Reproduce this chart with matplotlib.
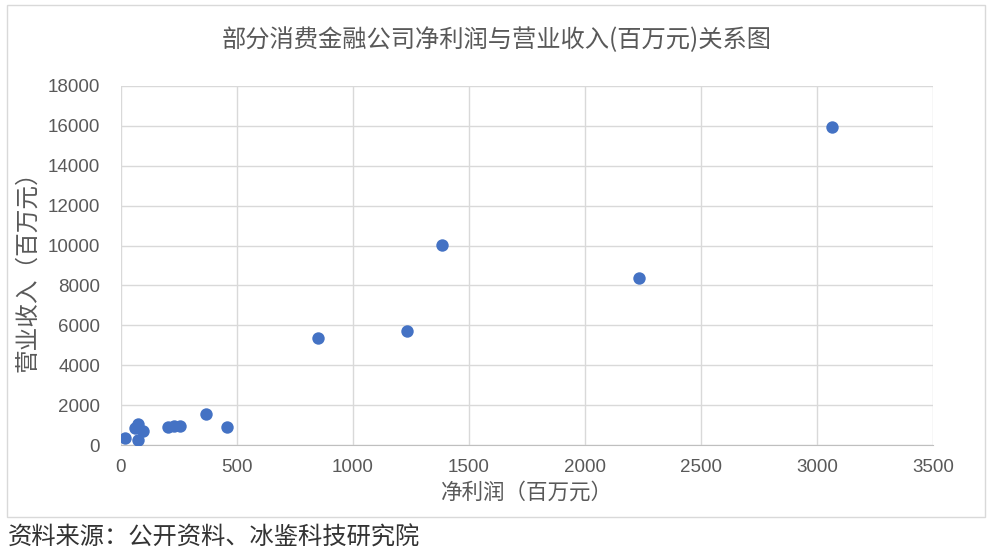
import matplotlib
matplotlib.use('Agg')
import matplotlib.pyplot as plt
from matplotlib.patches import Rectangle

plt.rcParams['font.family'] = ['Noto Sans CJK SC', 'DejaVu Sans']

# net profit vs revenue (million yuan)
net_profit = [3065, 2233, 1384, 1233, 849, 457, 366, 254, 228, 203, 95, 73, 73, 60, 17]
revenue = [15950, 8380, 10030, 5720, 5370, 900, 1560, 950, 950, 920, 700, 1050, 270, 850, 370]

x_ticks = list(range(0, 3501, 500))
y_ticks = list(range(0, 18001, 2000))

title = '部分消费金融公司净利润与营业收入(百万元)关系图'
x_label = '净利润（百万元）'
y_label = '营业收入（百万元）'
source = '资料来源：公开资料、冰鉴科技研究院'

text_color = '#595959'
grid_color = '#d9d9d9'

fig = plt.figure(figsize=(9.93, 5.57), dpi=100)
ax = fig.add_axes([121 / 993, 1 - 445 / 557, (933 - 121) / 993, (445 - 86) / 557])

# outer chart frame
fig.patches.append(Rectangle((7 / 993, 1 - 517 / 557), (985 - 7) / 993, (517 - 5) / 557,
                             transform=fig.transFigure, fill=False,
                             edgecolor='#d9d9d9', linewidth=1))

ax.scatter(net_profit, revenue, s=80, color='#4472C4', zorder=3, linewidths=0)

ax.set_xlim(0, 3500)
ax.set_ylim(0, 18000)
ax.set_xticks(x_ticks)
ax.set_yticks(y_ticks)
ax.grid(True, color=grid_color, linewidth=1, zorder=0)
ax.set_axisbelow(True)
for side in ['top', 'right', 'left']:
    ax.spines[side].set_visible(False)
ax.spines['bottom'].set_color('#bfbfbf')
ax.tick_params(length=0, labelsize=13.5, colors=text_color)
ax.tick_params(axis='x', pad=10)
ax.tick_params(axis='y', pad=15)
for lab in ax.get_xticklabels() + ax.get_yticklabels():
    lab.set_family(['Liberation Sans', 'DejaVu Sans'])

ax.set_xlabel(x_label, fontsize=15.5, color=text_color, labelpad=4)
ax.set_ylabel(y_label, fontsize=17, color=text_color, labelpad=6)
fig.text(0.5, 1 - 40 / 557, title, ha='center', va='center', fontsize=17.5, color=text_color)
fig.text(8 / 993, 1 - 538 / 557, source, ha='left', va='center', fontsize=17.5, color='#333333')

fig.savefig('out.png', dpi=100)
